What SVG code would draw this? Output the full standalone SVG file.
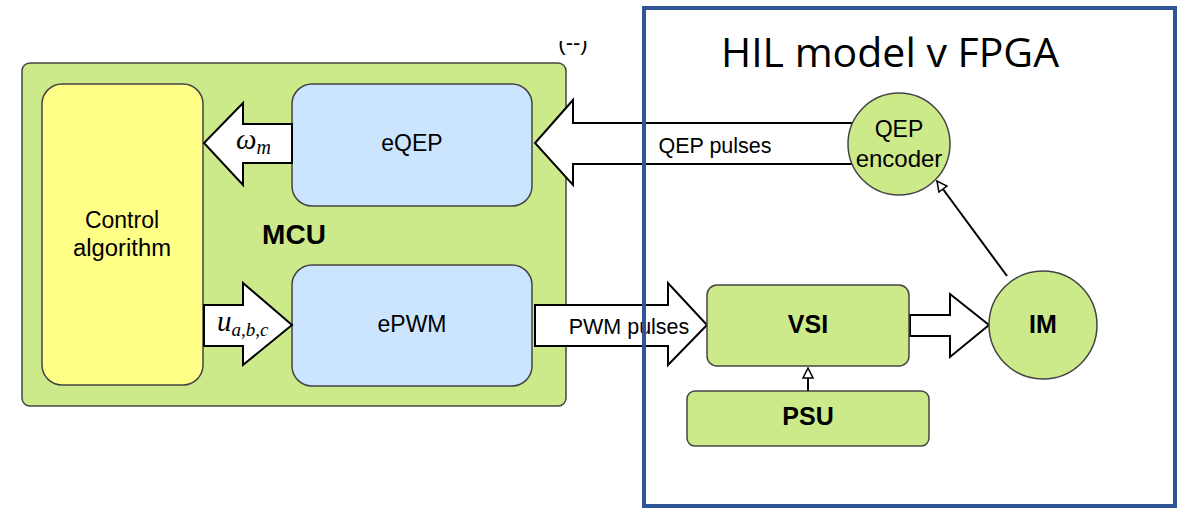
<svg xmlns="http://www.w3.org/2000/svg" width="1184" height="512" viewBox="0 0 1184 512">
<style>
.g{fill:#cdea8b;stroke:#444;stroke-width:1.5}
.y{fill:#ffff88;stroke:#444;stroke-width:1.5}
.b{fill:#cce5ff;stroke:#444;stroke-width:1.5}
.ar{fill:#fff;stroke:#000;stroke-width:2;stroke-linejoin:miter}
.t{font-family:"Liberation Sans",Arial,sans-serif;font-size:23px;fill:#000;text-anchor:middle}
.bd{font-weight:bold;font-size:25px}
.m{font-family:"Liberation Serif","DejaVu Serif",serif;font-style:italic;fill:#000}
</style>
<defs>
<marker id="open" viewBox="0 0 12 12" refX="11" refY="6" markerWidth="12" markerHeight="12" markerUnits="userSpaceOnUse" orient="auto">
<path d="M1,1 L11,6 L1,11 Z" fill="#fff" stroke="#000" stroke-width="1.5"/>
</marker>
<clipPath id="cl"><rect x="540" y="41" width="70" height="20"/></clipPath>
</defs>
<text x="573" y="50" class="t" style="font-size:22px" clip-path="url(#cl)">(--)</text>
<g id="mcu">
<rect x="22" y="63" width="544" height="343" rx="8" class="g"/>
<text x="294" y="244" class="t bd" style="font-size:28px">MCU</text>
</g>
<g id="control">
<rect x="42" y="84" width="161" height="301" rx="20" class="y"/>
<text x="122" y="228" class="t">Control</text>
<text x="122" y="256" class="t" textLength="98" lengthAdjust="spacingAndGlyphs">algorithm</text>
</g>
<g id="eqep">
<rect x="292" y="84" width="240" height="122" rx="20" class="b"/>
<text x="412" y="151" class="t">eQEP</text>
</g>
<g id="epwm">
<rect x="292" y="265" width="240" height="121" rx="20" class="b"/>
<text x="412" y="332" class="t">ePWM</text>
</g>
<g id="connectors">
<path class="ar" d="M292,124 L243,124 L243,103 L204,143 L243,185 L243,163 L292,163 Z"/>
<text x="236" y="149" class="m" style="font-size:29px">ω<tspan font-size="20" dy="5">m</tspan></text>
<path class="ar" d="M204,305 L243,305 L243,283 L292,325 L243,365 L243,346 L204,346 Z"/>
<text x="217" y="331" class="m" style="font-size:29px">u<tspan font-size="19" dy="5">a,b,c</tspan></text>
<path class="ar" d="M852,123 L573,123 L573,100 L535,143 L573,185 L573,164 L852,164 Z"/>
<text x="715" y="153" class="t" style="font-size:21.5px">QEP pulses</text>
<path class="ar" d="M535,305 L668,305 L668,283 L707,325 L668,365 L668,346 L535,346 Z"/>
<text x="629" y="334" class="t" style="font-size:21.5px">PWM pulses</text>
<path class="ar" d="M910,315 L950,315 L950,294 L989,325 L950,357 L950,336 L910,336 Z"/>
<line x1="808" y1="391" x2="808" y2="368" stroke="#000" stroke-width="2" marker-end="url(#open)"/>
<line x1="1007" y1="276" x2="937" y2="181" stroke="#000" stroke-width="2" marker-end="url(#open)"/>
</g>
<g id="qepenc">
<circle cx="899" cy="144" r="51" class="g"/>
<text x="899" y="137" class="t">QEP</text>
<text x="899" y="167" class="t" style="font-size:24px">encoder</text>
</g>
<g id="vsi">
<rect x="707" y="285" width="202" height="81" rx="10" class="g"/>
<text x="808" y="333" class="t bd">VSI</text>
</g>
<g id="psu">
<rect x="687" y="391" width="242" height="55" rx="8" class="g"/>
<text x="808" y="425" class="t bd">PSU</text>
</g>
<g id="im">
<circle cx="1043" cy="325" r="54" class="g"/>
<text x="1043" y="333" class="t bd">IM</text>
</g>
<g id="hil">
<rect x="644" y="8" width="531" height="498" fill="none" stroke="#2f5597" stroke-width="4"/>
<text x="890" y="67" class="t" style="font-size:41px;font-family:'Open Sans','Liberation Sans',sans-serif">HIL model v FPGA</text>
</g>
</svg>
